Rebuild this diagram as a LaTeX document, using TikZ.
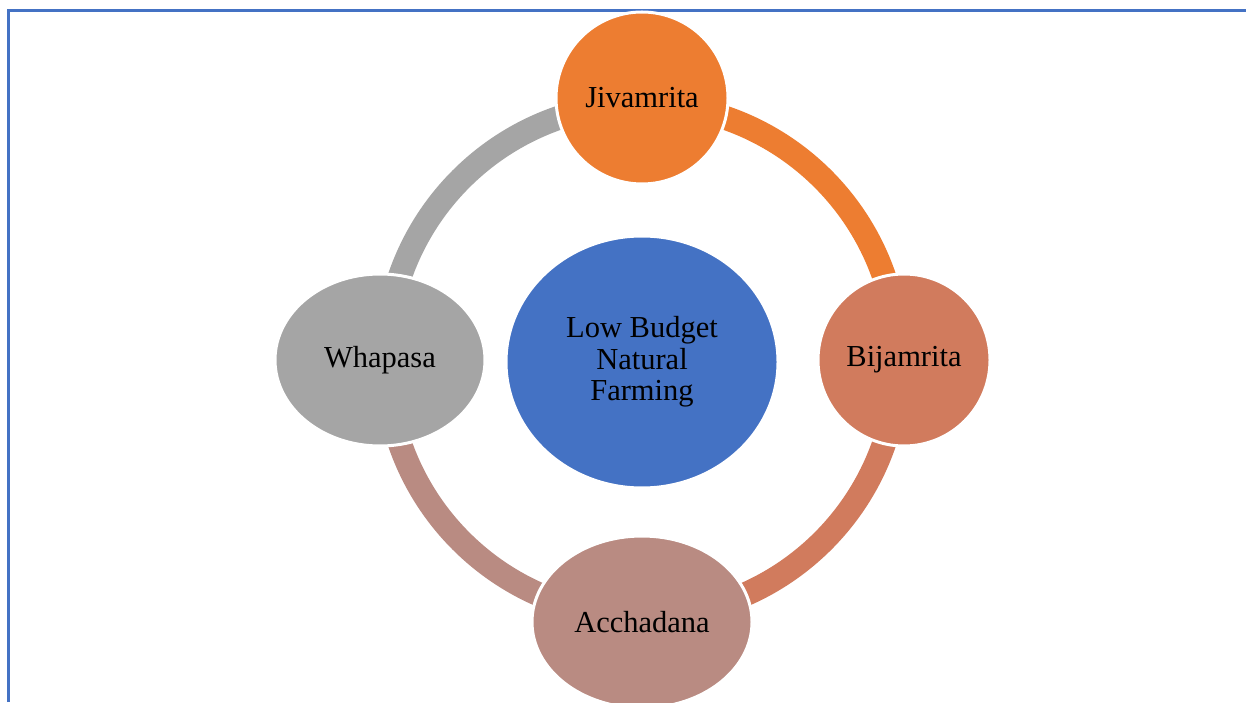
\documentclass[tikz,border=0pt]{standalone}
\usepackage{fontspec}
\setmainfont{Liberation Serif}
\usetikzlibrary{shapes.geometric}
\definecolor{bord}{HTML}{4472C4}
\definecolor{cjiv}{HTML}{ED7D31}
\definecolor{cbij}{HTML}{D17B5D}
\definecolor{cacc}{HTML}{B98B82}
\definecolor{cwha}{HTML}{A5A5A5}
\definecolor{ccen}{HTML}{4472C4}
\tikzset{
  ringarc/.style={line width=24pt},
  blob/.style={draw=white, line width=3pt, inner sep=0pt, align=center,
    font=\fontsize{30.5}{31.5}\selectfont, text=black},
  roundblob/.style={blob, circle, minimum size=172pt},
  ellblob/.style={blob, ellipse},
}
\begin{document}
\begin{tikzpicture}[x=1pt,y=1pt]
\useasboundingbox (0,0) rectangle (1246,702);
\fill[white] (0,0) rectangle (1246,702);
% border
\coordinate (bl) at (8,0);
\coordinate (tl) at (8,691);
\coordinate (tr) at (1246,691);
\draw[bord, line width=3pt] (bl) -- (tl) -- (tr);
% ring centre
\coordinate (ring) at (642,342);
% ring arcs
\draw[ringarc, cjiv] (ring) ++(90:256) arc[start angle=90, end angle=0, radius=256];
\draw[ringarc, cbij] (ring) ++(0:256) arc[start angle=0, end angle=-90, radius=256];
\draw[ringarc, cacc] (ring) ++(270:256) arc[start angle=270, end angle=180, radius=256];
\draw[ringarc, cwha] (ring) ++(180:256) arc[start angle=180, end angle=90, radius=256];
% nodes
\node[ellblob, fill=ccen, minimum width=272pt, minimum height=252pt] (cen) at (642,340) {Low Budget\\Natural\\Farming};
\node[roundblob, fill=cjiv] (jiv) at (642,604) {Jivamrita};
\node[roundblob, fill=cbij] (bij) at (904,342) {Bijamrita};
\node[ellblob, fill=cacc, minimum width=220pt, minimum height=172pt] (acc) at (642,80) {Acchadana};
\node[ellblob, fill=cwha, minimum width=210pt, minimum height=172pt] (wha) at (380,342) {Whapasa};
\end{tikzpicture}
\end{document}
